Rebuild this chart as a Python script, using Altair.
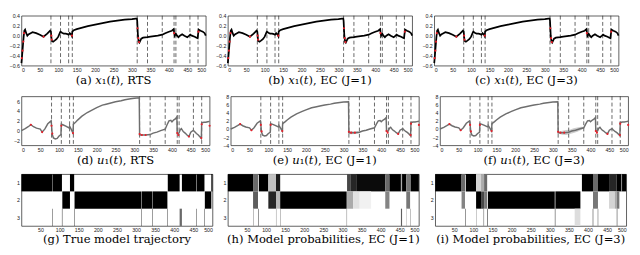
import altair as alt
import pandas as pd

# ---------------- data ----------------
switch_times = [80, 106, 128, 138, 314, 342, 382, 414, 419, 457, 479]

x1_t = [0, 2, 4, 6, 8, 10, 13, 16, 20, 25, 30, 40, 50, 60, 70, 78, 80, 82, 86, 90, 95, 100, 105, 106,
        110, 115, 120, 125, 128, 131, 135, 137, 138, 142, 150, 165, 180, 200, 220, 240, 260, 280, 300,
        310, 313, 314, 316, 318, 320, 325, 330, 342, 350, 360, 370, 382, 390, 400, 408, 413, 414, 416,
        419, 422, 426, 430, 436, 442, 450, 455, 458, 462, 470, 475, 478, 479, 481, 486, 492, 497, 500]
x1_v = [-0.55, -0.38, -0.2, -0.02, 0.1, 0.12, 0.05, 0.0, 0.03, 0.05, 0.07, 0.05, 0.02, -0.02, 0.04,
        0.1, 0.08, -0.1, -0.12, -0.1, -0.07, -0.02, 0.07, 0.08, 0.06, 0.04, 0.04, 0.03, 0.02, 0.05,
        0.02, -0.01, 0.08, 0.11, 0.13, 0.16, 0.19, 0.22, 0.25, 0.28, 0.3, 0.32, 0.33, 0.34, 0.34, 0.3,
        0.0, -0.12, -0.14, -0.06, -0.04, -0.03, -0.02, -0.01, 0.0, 0.02, 0.05, 0.08, 0.1, 0.13, 0.08,
        0.0, 0.04, 0.0, -0.03, 0.0, 0.03, 0.0, -0.03, 0.0, 0.02, 0.0, -0.02, -0.04, -0.05, 0.02, 0.12,
        0.1, 0.08, 0.05, 0.0]
x1_red_t = [1, 3, 5, 7, 60, 81, 82, 137, 315, 317, 319, 414, 480]
x1_red_v = [-0.45, -0.3, -0.12, 0.05, -0.02, 0.0, -0.08, 0.0, 0.15, -0.05, -0.13, 0.05, 0.08]

u1_t = [0, 10, 18, 25, 32, 40, 50, 55, 62, 70, 79, 80, 82, 85, 90, 95, 100, 105, 106, 110, 118, 125,
        127, 128, 132, 135, 137, 138, 145, 150, 160, 175, 190, 200, 215, 225, 240, 250, 265, 275, 290,
        300, 313, 314, 320, 330, 342, 350, 360, 370, 382, 387, 392, 397, 400, 405, 409, 413, 414, 417,
        419, 422, 425, 430, 435, 440, 445, 450, 457, 460, 465, 470, 478, 479, 485, 490, 495, 500]
u1_v = [0.0, 0.4, 0.8, 1.2, 0.8, 0.5, 0.3, -0.3, 0.3, 1.4, 2.0, 1.0, -0.8, -1.5, -1.7, -1.6, -1.1,
        -0.8, 1.3, 1.2, 0.9, 0.6, 0.5, 0.9, 0.3, -0.2, -0.5, 1.3, 1.8, 2.2, 2.9, 3.7, 4.3, 4.7, 5.2,
        5.4, 5.7, 5.9, 6.1, 6.3, 6.5, 6.6, 6.7, -0.9, -0.9, -0.9, -0.8, -0.5, -0.3, 0.0, 0.3, 1.2, 2.0,
        2.1, 1.8, 2.2, 2.4, 2.8, -0.5, -0.6, -0.4, 0.2, 0.4, -0.2, -0.5, -0.9, -1.2, -0.3, 0.1, -0.2,
        -0.6, -0.9, -1.6, 1.6, 1.7, 1.7, 1.8, 1.9]
u1_red_t = [25, 55, 80, 82, 106, 137, 314, 320, 330, 414, 417, 445, 478, 479, 500]
u1_red_v = [1.2, -0.3, 1.0, -0.6, 1.0, -0.5, -0.7, -0.9, -0.9, -0.5, -0.9, -1.2, -1.5, 1.3, 1.0]

# grey uncertainty bands (e) and (f)
band_e_t = [314, 320, 330, 340]
band_e_lo = [-1.2, -1.3, -1.2, -1.1]
band_e_hi = [-0.6, -0.5, -0.6, -0.5]
band_f_t = [314, 325, 335, 345, 355, 365, 375, 382]
band_f_lo = [-1.1, -1.4, -1.45, -1.2, -1.0, -0.65, -0.25, 0.1]
band_f_hi = [-0.7, -0.4, -0.25, -0.2, 0.2, 0.35, 0.55, 0.5]

# model trajectory / probabilities: start, end, model row, probability
g_s = [0, 81, 127, 383, 420, 459, 497, 107, 139, 315, 343, 480, 80, 106, 138, 314, 342, 382, 414, 458, 479]
g_e = [80, 106, 138, 414, 458, 479, 500, 127, 314, 342, 382, 497, 81, 107, 139, 315, 343, 383, 420, 459, 480]
g_r = [1, 1, 1, 1, 1, 1, 1, 2, 2, 2, 2, 2, 3, 3, 3, 3, 3, 3, 3, 3, 3]
g_p = [1, 1, 1, 1, 1, 1, 1, 1, 1, 1, 1, 1, 1, 1, 1, 1, 1, 1, 0.55, 1, 1]

h_s = [0, 66, 81, 106, 126, 312, 322, 336, 412, 423, 453, 456, 467, 478,
       66, 106, 126, 137, 312, 328, 345, 412, 467,
       66, 79, 126, 137, 311, 453, 467, 477]
h_e = [66, 79, 106, 126, 137, 322, 336, 412, 423, 453, 456, 467, 477, 500,
       79, 126, 137, 311, 328, 345, 375, 423, 477,
       68, 81, 127, 138, 312, 456, 468, 478]
h_r = [1] * 14 + [2] * 9 + [3] * 8
h_p = [1.0, 0.55, 1.0, 0.22, 0.9, 0.7, 0.85, 0.97, 0.55, 1.0, 0.3, 1.0, 0.5, 1.0,
       0.6, 0.85, 0.25, 1.0, 0.3, 0.1, 0.05, 0.45, 0.5,
       0.3, 0.5, 0.5, 0.6, 0.6, 0.6, 0.4, 0.6]

i_s = [0, 69, 80, 107, 120, 128, 384, 413, 426, 455, 475, 487, 489,
       69, 107, 120, 128, 138, 313, 315, 413, 455, 470, 475,
       78, 107, 126, 136, 313, 365, 412, 425, 475]
i_e = [69, 78, 107, 120, 128, 136, 413, 426, 455, 475, 487, 489, 500,
       78, 120, 128, 136, 313, 315, 380, 426, 470, 475, 482,
       80, 108, 128, 138, 315, 380, 414, 427, 477]
i_r = [1] * 13 + [2] * 11 + [3] * 9
i_p = [1, 0.55, 1, 0.15, 0.3, 0.55, 1, 0.55, 1, 0.85, 1, 0.5, 1,
       0.45, 1, 0.7, 0.5, 1, 0.5, 1, 0.5, 0.15, 0.3, 0.5,
       0.5, 0.5, 0.4, 0.6, 0.5, 0.12, 0.5, 0.4, 0.5]

captions = ["(a) 𝑥₁(𝑡), RTS", "(b) 𝑥₁(𝑡), EC (J=1)", "(c) 𝑥₁(𝑡), EC (J=3)",
            "(d) 𝑢₁(𝑡), RTS", "(e) 𝑢₁(𝑡), EC (J=1)", "(f) 𝑢₁(𝑡), EC (J=3)",
            "(g) True model trajectory", "(h) Model probabilities, EC (J=1)",
            "(i) Model probabilities, EC (J=3)"]

# ---------------- helpers ----------------
LBL = dict(labelFontSize=5.5, labelFont="Liberation Sans", labelColor="#222",
           ticks=False, domain=False, grid=False, title=None)


def cap(text, off):
    return alt.TitleParams(text=text, orient="bottom", font="DejaVu Serif", fontSize=12,
                           fontWeight="normal", color="black", offset=off, anchor="middle")


def xenc(field, values):
    return alt.X(f"{field}:Q", scale=alt.Scale(domain=[0, 500], nice=False, zero=False),
                 axis=alt.Axis(values=values, labelPadding=2, **LBL))


def line_panel(t, v, rt, rv, ydom, yticks, caption, w, h, yext, color, sw, off, band=None):
    yscale = alt.Scale(domain=ydom, nice=False, zero=False)
    yax = alt.Axis(values=yticks, labelPadding=2, minExtent=yext, maxExtent=yext, **LBL)
    xv = list(range(0, 501, 50))
    layers = []
    if band is not None:
        bdf = pd.DataFrame({"t": band[0], "lo": band[1], "hi": band[2]})
        layers.append(alt.Chart(bdf).mark_area(color="#c8c8c8", opacity=0.9).encode(
            x=xenc("t", xv), y=alt.Y("lo:Q", scale=yscale, axis=yax), y2="hi:Q"))
    ddf = pd.DataFrame({"s": switch_times})
    layers.append(alt.Chart(ddf).mark_rule(strokeDash=[4, 2.5], color="#222", strokeWidth=0.7).encode(
        x=xenc("s", xv)))
    df = pd.DataFrame({"t": t, "v": v})
    layers.append(alt.Chart(df).mark_line(color=color, strokeWidth=sw).encode(
        x=xenc("t", xv), y=alt.Y("v:Q", scale=yscale, axis=yax)))
    rdf = pd.DataFrame({"t": rt, "v": rv})
    layers.append(alt.Chart(rdf).mark_circle(color="#e8202a", size=5, opacity=1).encode(
        x=xenc("t", xv), y=alt.Y("v:Q", scale=yscale, axis=yax)))
    return alt.layer(*layers).properties(width=w, height=h, title=cap(caption, off))


def heat_panel(s, e, r, p, caption, w, h, yext, off):
    df = pd.DataFrame({"s": s, "e": e, "r": r, "p": p})
    df["r0"] = df["r"] - 0.5
    df["r1"] = df["r"] + 0.5
    yax = alt.Axis(values=[1, 2, 3], labelPadding=2, minExtent=yext, maxExtent=yext, **LBL)
    return alt.Chart(df).mark_rect(strokeWidth=0).encode(
        x=xenc("s", list(range(50, 501, 50))), x2="e:Q",
        y=alt.Y("r0:Q", scale=alt.Scale(domain=[3.5, 0.5], nice=False, zero=False), axis=yax),
        y2="r1:Q",
        color=alt.Color("p:Q", scale=alt.Scale(domain=[0, 1], range=["#ffffff", "#000000"]), legend=None),
    ).properties(width=w, height=h, title=cap(caption, off))


W1, H1 = 192, 52
W2, H2 = 196, 51
W3, H3 = 199, 54

y1d, y1t = [-0.6, 0.4], [-0.6, -0.4, -0.2, 0, 0.2, 0.4]
row1 = alt.hconcat(
    line_panel(x1_t, x1_v, x1_red_t, x1_red_v, y1d, y1t, captions[0], W1, H1, 12, "black", 1.8, 3),
    line_panel(x1_t, x1_v, x1_red_t, x1_red_v, y1d, y1t, captions[1], W1, H1, 12, "black", 1.8, 3),
    line_panel(x1_t, x1_v, x1_red_t, x1_red_v, y1d, y1t, captions[2], W1, H1, 12, "black", 1.8, 3),
    spacing=5)
row2 = alt.hconcat(
    line_panel(u1_t, u1_v, u1_red_t, u1_red_v, [-3, 7], [-2, 0, 2, 4, 6], captions[3], W2, H2, 7, "#6e6e6e", 1.5, 3),
    line_panel(u1_t, u1_v, u1_red_t, u1_red_v, [-4, 8], [-4, -2, 0, 2, 4, 6, 8], captions[4], W2, H2, 7, "#6e6e6e", 1.5, 3,
               band=(band_e_t, band_e_lo, band_e_hi)),
    line_panel(u1_t, u1_v, u1_red_t, u1_red_v, [-4, 8], [-4, -2, 0, 2, 4, 6, 8], captions[5], W2, H2, 7, "#6e6e6e", 1.5, 3,
               band=(band_f_t, band_f_lo, band_f_hi)),
    spacing=9)
row3 = alt.hconcat(
    heat_panel(g_s, g_e, g_r, g_p, captions[6], W3, H3, 6, 1),
    heat_panel(h_s, h_e, h_r, h_p, captions[7], W3, H3, 6, 1),
    heat_panel(i_s, i_e, i_r, i_p, captions[8], W3, H3, 6, 1),
    spacing=8)

chart = alt.vconcat(row1, row2, row3, spacing=7).properties(padding=0).configure_view(
    stroke="#333", strokeWidth=0.8).configure_concat(spacing=5)

chart.save("out.html", embed_options={"renderer": "svg", "actions": False})
